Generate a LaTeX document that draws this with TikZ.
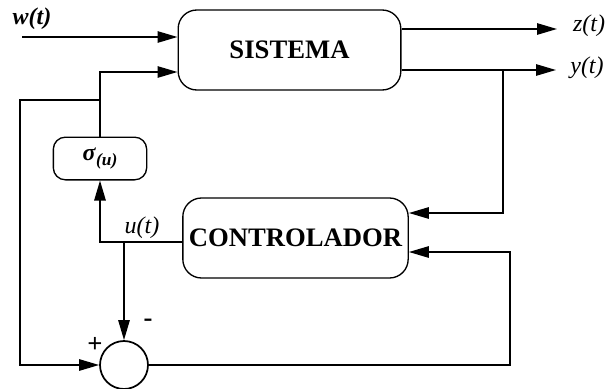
\documentclass[tikz,border=0pt]{standalone}
\usepackage{fontspec}
\setmainfont{Liberation Serif}
\usetikzlibrary{%
  arrows.meta,%
  shapes,%
  positioning,% wg. " of "
  calc
}
\newcommand{\sigu}{\textbf{\textit{σ}}\raisebox{-0.45ex}{\fontsize{13}{15}\selectfont\bfseries\itshape(u)}}

\begin{document}
\begin{tikzpicture}[
  x=0.75pt, y=-0.75pt, line width=1.3pt,
  >={Triangle[length=15pt,width=8.5pt]},
  block/.style={rectangle, minimum height=60pt, draw=black, line width=1pt, rounded corners=14pt, font=\fontsize{20}{24}\selectfont\bfseries},
  sigbox/.style={rectangle, minimum height=32pt, minimum width=70pt, draw=black, line width=1pt, rounded corners=9pt, font=\fontsize{18}{21}\selectfont},
  sumnode/.style={circle, minimum size=36pt, inner sep=0pt, draw=black},
  lbl/.style={font=\fontsize{18}{21}\selectfont\itshape, inner sep=1pt}
]
\useasboundingbox (0,0) rectangle (608,389);

\node[block, minimum width=167pt] (sys) at (289.5,50) {SISTEMA};
\node[block, minimum width=169pt] (ctrl) at (295.5,238) {CONTROLADOR};
\node[sigbox] (sig) at (100,158.5) {\sigu};
\node[sumnode] (sum) at (124,365) {};

\coordinate (win) at (22,37);
\coordinate (zend) at (557,29);
\coordinate (yend) at (556,70);
\coordinate (yb) at (503,70);
\coordinate (ci1) at (503,213);
\coordinate (ci2) at (510,252);
\coordinate (uo) at (100,242);
\coordinate (ub) at (124,242);
\coordinate (si) at (100,72);
\coordinate (jf) at (100,100);
\coordinate (fl) at (20,100);

\draw[->] (win) -- (win -| sys.west);
\draw[->] (sys.east |- zend) -- (zend);
\draw[->] (sys.east |- yend) -- (yend);
\draw[->] (yb) -- (ci1) -- (ci1 -| ctrl.east);
\draw[->] (sum.east) -| (ci2) -- (ci2 -| ctrl.east);
\draw[->] (ctrl.west |- uo) -- (uo) -- (sig.south);
\draw[->] (ub) -- (sum.north);
\draw[->] (sig.north) -- (si) -- (si -| sys.west);
\draw[->] (jf) -- (fl) |- (sum.west);

\node[lbl, font=\fontsize{18}{21}\selectfont\bfseries\itshape] (wlab) at (32,19) {w(t)};
\node[lbl] (zlab) at (589,26) {z(t)};
\node[lbl] (ylab) at (587,68) {y(t)};
\node[lbl] (ulab) at (142,228) {u(t)};
\node[lbl, font=\fontsize{20}{24}\selectfont\bfseries] (plus) at (95,345) {+};
\node[lbl, font=\fontsize{20}{24}\selectfont\bfseries] (minus) at (148,323) {-};
\end{tikzpicture}
\end{document}
